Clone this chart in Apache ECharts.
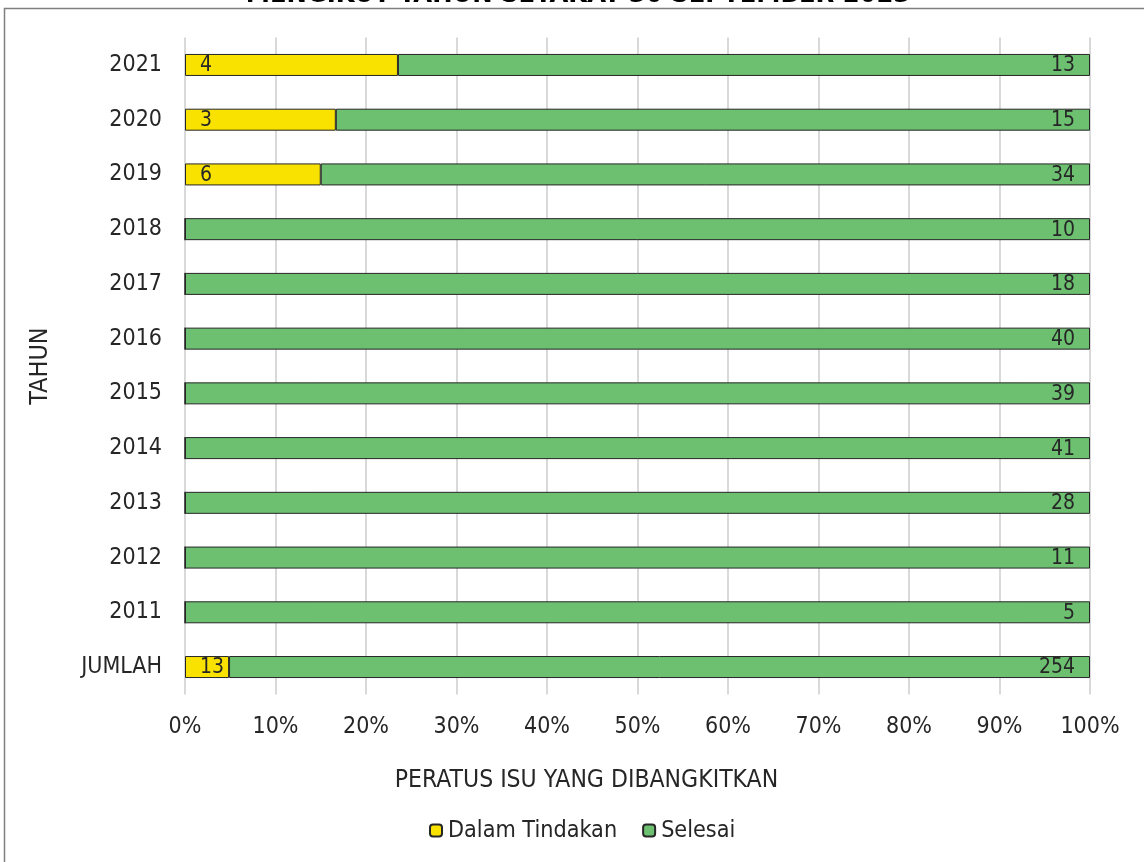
<!DOCTYPE html>
<html>
<head>
<meta charset="utf-8">
<script src="https://cdn.jsdelivr.net/npm/echarts@6/dist/echarts.min.js"></script>
<style>
html,body{margin:0;padding:0;background:#fff;}
#chart{width:1144px;height:862px;}
</style>
</head>
<body>
<div id="chart"></div>
<script>
const titleText = 'MENGIKUT TAHUN SETAKAT 30 SEPTEMBER 2023';
const categories = ['JUMLAH','2011','2012','2013','2014','2015','2016','2017','2018','2019','2020','2021'];
const dalamTindakan = [13,0,0,0,0,0,0,0,0,6,3,4];
const selesai = [254,5,11,28,41,39,40,18,10,34,15,13];
const xTicks = [0,10,20,30,40,50,60,70,80,90,100];

const FONT = '"DejaVu Sans Condensed", "Liberation Sans", sans-serif';
const TXT = '#262626';
const totals = categories.map((c,i)=>dalamTindakan[i]+selesai[i]);
const pct = (arr)=>arr.map((v,i)=>({value: v/totals[i]*100, raw: v}));

const chart = echarts.init(document.getElementById('chart'), null, {renderer:'canvas'});
chart.setOption({
  animation:false,
  backgroundColor:'#fff',
  textStyle:{fontFamily:FONT,color:TXT},
  graphic:[
    {type:'rect', shape:{x:4.5,y:8.5,width:1200,height:900}, style:{fill:'none',stroke:'#7f7f7f',lineWidth:1.5}, z:-1},
    {type:'text', x:578, y:-19, z:10, style:{text:titleText, align:'center', verticalAlign:'top', fontFamily:FONT, fontWeight:'bold', fontSize:27, fill:'#000'}}
  ],
  grid:{left:185,right:54,top:37.6,bottom:167.6,containLabel:false},
  legend:{
    bottom:15, left:424,
    itemWidth:12,itemHeight:12,itemGap:25,
    textStyle:{fontFamily:FONT,fontSize:23.2,color:TXT,padding:[0,0,0,1]},
    data:['Dalam Tindakan','Selesai']
  },
  xAxis:{
    type:'value',min:0,max:100,interval:10,
    name:'PERATUS ISU YANG DIBANGKITKAN',nameLocation:'middle',nameGap:74,
    nameTextStyle:{fontFamily:FONT,fontSize:24.5,color:TXT,padding:[0,102,0,0]},
    axisLine:{show:false},axisTick:{show:false},
    axisLabel:{formatter:(v)=>xTicks.includes(v)?v+'%':'',fontFamily:FONT,fontSize:23,color:TXT,margin:21},
    splitLine:{show:true,lineStyle:{color:'#d9d9d9',width:2}}
  },
  yAxis:{
    type:'category',data:categories,
    name:'TAHUN',nameLocation:'middle',nameGap:132,nameRotate:90,
    nameTextStyle:{fontFamily:FONT,fontSize:25,color:TXT},
    axisLine:{show:false},axisTick:{show:false},
    axisLabel:{fontFamily:FONT,fontSize:23,color:TXT,margin:23}
  },
  series:[
    {
      name:'Dalam Tindakan',type:'bar',stack:'a',barWidth:22,
      data:pct(dalamTindakan),
      itemStyle:{color:'#f9e200',borderColor:'#262626',borderWidth:1},
      label:{show:true,position:'insideLeft',distance:15,offset:[0,1],fontFamily:FONT,fontSize:21,color:TXT,
        formatter:(p)=>p.data.raw>0?String(p.data.raw):''}
    },
    {
      name:'Selesai',type:'bar',stack:'a',barWidth:22,
      data:pct(selesai),
      itemStyle:{color:'#6cc070',borderColor:'#262626',borderWidth:1},
      label:{show:true,position:'insideRight',distance:15,offset:[0,1],fontFamily:FONT,fontSize:21,color:TXT,
        formatter:(p)=>p.data.raw>0?String(p.data.raw):''}
    }
  ]
});
</script>
</body>
</html>
